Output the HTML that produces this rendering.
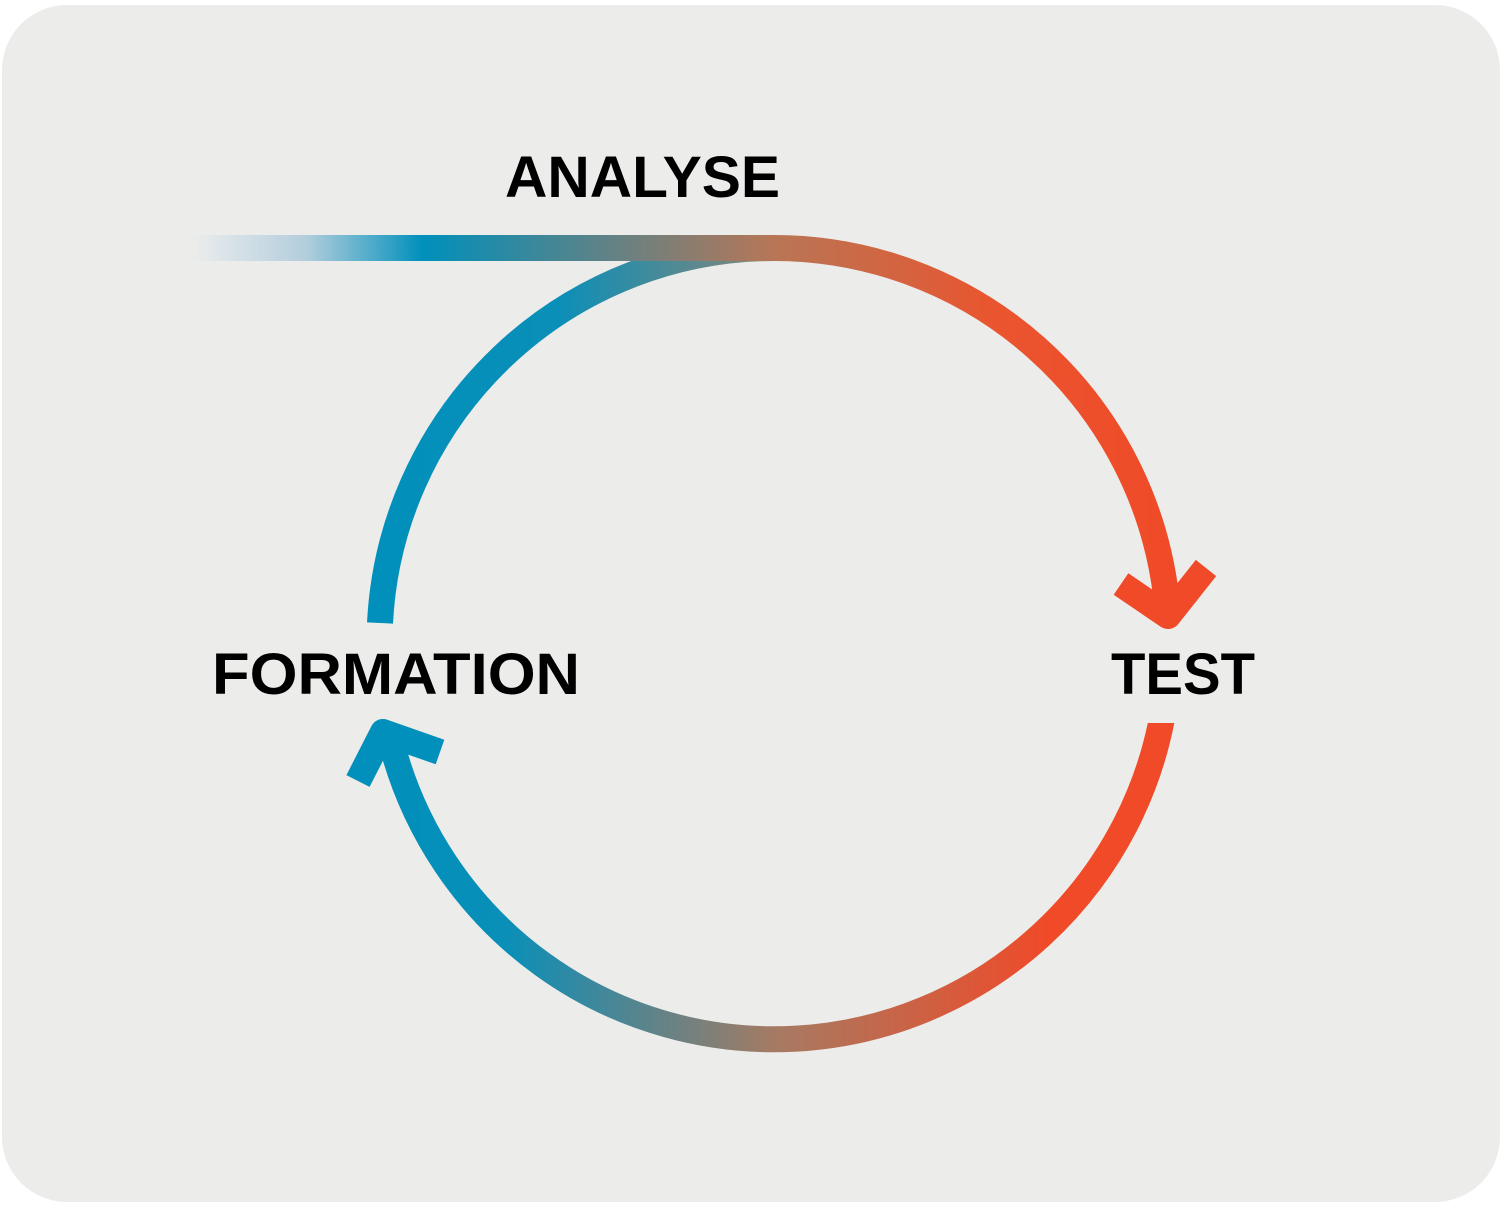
<!DOCTYPE html>
<html><head><meta charset="utf-8"><style>
html,body{margin:0;padding:0;background:#fff;}
svg{display:block;}
text{font-family:"Liberation Sans",sans-serif;font-weight:bold;fill:#000;}
</style></head><body>
<svg width="1500" height="1208" viewBox="0 0 1500 1208" xmlns="http://www.w3.org/2000/svg">
<defs>
<linearGradient id="hbar" x1="188" y1="0" x2="775" y2="0" gradientUnits="userSpaceOnUse">
<stop offset="0" stop-color="#e6eaec" stop-opacity="0"/>
<stop offset="0.05" stop-color="#dfe6ea"/>
<stop offset="0.2" stop-color="#b4cedd"/>
<stop offset="0.4" stop-color="#0090bb"/>
<stop offset="1" stop-color="#b87656"/>
</linearGradient>
<linearGradient id="rtop" x1="774" y1="0" x2="1170" y2="0" gradientUnits="userSpaceOnUse">
<stop offset="0" stop-color="#b87656"/>
<stop offset="0.55" stop-color="#e9552f"/>
<stop offset="1" stop-color="#f04a28"/>
</linearGradient>
<linearGradient id="ltop" x1="379" y1="0" x2="774" y2="0" gradientUnits="userSpaceOnUse">
<stop offset="0" stop-color="#0090bb"/>
<stop offset="0.45" stop-color="#0a8fb8"/>
<stop offset="1" stop-color="#8a8577"/>
</linearGradient>
<linearGradient id="bot" x1="390" y1="0" x2="1165" y2="0" gradientUnits="userSpaceOnUse">
<stop offset="0" stop-color="#0090bb"/>
<stop offset="0.15" stop-color="#0a8fb8"/>
<stop offset="0.5" stop-color="#a77a62"/>
<stop offset="0.85" stop-color="#f04a28"/>
<stop offset="1" stop-color="#f04a28"/>
</linearGradient>
<clipPath id="botclip"><rect x="0" y="723" width="1500" height="500"/></clipPath>
</defs>
<rect x="2" y="5" width="1498" height="1197" rx="65" fill="#ececea"/>
<path d="M 380 623 A 395 395 0 0 1 774 248" fill="none" stroke="url(#ltop)" stroke-width="26"/>
<rect x="188" y="235" width="587" height="26" fill="url(#hbar)"/>
<path d="M 774 248 A 395 395 0 0 1 1166 595" fill="none" stroke="url(#rtop)" stroke-width="26"/>
<path d="M 1165 590 L 1168 612" fill="none" stroke="#f04a28" stroke-width="26"/>
<polyline points="1121,584 1168,616 1206,568" fill="none" stroke="#f04a28" stroke-width="26" stroke-linejoin="round"/>
<path clip-path="url(#botclip)" d="M 1165 700 A 395 395 0 0 1 392 745" fill="none" stroke="url(#bot)" stroke-width="26"/>
<path d="M 392 745 L 384 730" fill="none" stroke="#0090bb" stroke-width="26"/>
<polyline points="358,781 383,732 440,752" fill="none" stroke="#0090bb" stroke-width="26" stroke-linejoin="round"/>
<text x="505" y="197" font-size="58" textLength="275" lengthAdjust="spacingAndGlyphs">ANALYSE</text>
<text x="212" y="694" font-size="58" textLength="368" lengthAdjust="spacingAndGlyphs">FORMATION</text>
<text x="1111" y="694" font-size="58" textLength="144" lengthAdjust="spacingAndGlyphs">TEST</text>
</svg>
</body></html>
